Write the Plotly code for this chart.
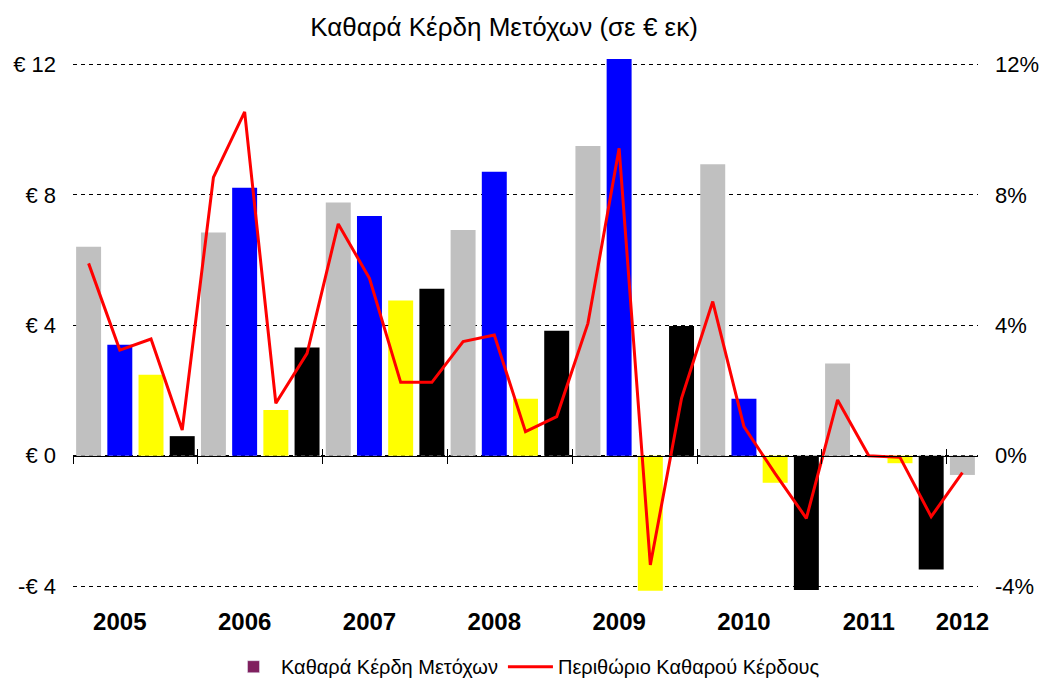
import plotly.graph_objects as go

# ---- data ----
categories = [f"{y} Q{q}" for y in range(2005, 2013) for q in range(1, 5)][:29]
eps = [6.41, 3.40, 2.48, 0.60,
       6.85, 8.22, 1.40, 3.32,
       7.77, 7.35, 4.76, 5.12,
       6.92, 8.71, 1.75, 3.83,
       9.50, 12.17, -4.14, 3.98,
       8.94, 1.75, -0.83, -4.12,
       2.83, 0.00, -0.23, -3.49,
       -0.59]
margin_pct = [5.90, 3.24, 3.58, 0.79,
              8.54, 10.55, 1.61, 3.14,
              7.11, 5.44, 2.25, 2.25,
              3.50, 3.70, 0.74, 1.20,
              4.06, 9.43, -3.35, 1.76,
              4.73, 0.89, -0.55, -1.92,
              1.71, 0.00, -0.05, -1.87,
              -0.52]
years = ["2005", "2006", "2007", "2008", "2009", "2010", "2011", "2012"]
left_ticks = [-4, 0, 4, 8, 12]
left_text = ["-€ 4", "€ 0", "€ 4", "€ 8", "€ 12"]
right_text = ["-4%", "0%", "4%", "8%", "12%"]

title = "Καθαρά Κέρδη Μετόχων (σε € εκ)"
name_bar = "Καθαρά Κέρδη Μετόχων"
name_line = "Περιθώριο Καθαρού Κέρδους"

# ---- styling ----
quarter_colors = ["#C0C0C0", "#0000FF", "#FFFF00", "#000000"]
FONT = "Liberation Sans, Arial, sans-serif"
W, H = 1041, 676  # page body has an 8px margin

x = list(range(len(categories)))
bar_colors = [quarter_colors[int(c.split("Q")[1]) - 1] for c in categories]
label_pos = []
for yr in years:
    idx = categories.index(f"{yr} Q2") if f"{yr} Q2" in categories else categories.index(f"{yr} Q1")
    label_pos.append(idx)
boundaries = [i - 0.5 for i in x if i % 4 == 0]

yr_range = [-4.15, 12.2]
xr = [-0.5, len(categories) - 0.5]
zero_pos = (0 - yr_range[0]) / (yr_range[1] - yr_range[0])

fig = go.Figure()
fig.add_trace(go.Bar(x=x, y=eps, marker=dict(color=bar_colors, line=dict(width=0)),
                     name=name_bar, showlegend=False, xaxis="x", yaxis="y"))
fig.add_trace(go.Bar(x=[None], y=[None], marker=dict(color="#80205F"),
                     name=name_bar, showlegend=True, xaxis="x3", yaxis="y"))
fig.add_trace(go.Scatter(x=x, y=margin_pct, mode="lines",
                         line=dict(color="#FF0000", width=3),
                         name=name_line, xaxis="x2", yaxis="y2"))

fig.update_layout(
    width=W, height=H,
    margin=dict(l=65, r=71, t=50, b=93, autoexpand=False),
    paper_bgcolor="white", plot_bgcolor="white",
    bargap=0.2,
    font=dict(family=FONT, color="black"),
    title=dict(text=title, x=496 / W, xanchor="center", y=1 - 19 / H, yanchor="middle",
               yref="container", font=dict(size=26, color="black")),
    xaxis=dict(range=xr, tickmode="array", tickvals=label_pos, ticktext=years,
               showline=False, ticks="", showgrid=False, zeroline=False, automargin=False,
               tickfont=dict(size=24, family="Liberation Sans, Arial", weight="bold"),
               ticklabelstandoff=14),
    xaxis2=dict(range=xr, overlaying="x", anchor="free", position=zero_pos, side="bottom",
                showline=True, linecolor="black", linewidth=1, automargin=False,
                tickmode="array", tickvals=boundaries, ticks="outside", ticklen=7,
                tickcolor="black", showticklabels=False, showgrid=False, zeroline=False),
    xaxis3=dict(range=xr, overlaying="x", anchor="free", position=zero_pos, side="bottom",
                showline=False, tickmode="array", tickvals=boundaries, ticks="inside",
                ticklen=7, tickcolor="black", showticklabels=False, showgrid=False,
                zeroline=False, automargin=False),
    yaxis=dict(range=yr_range, tickmode="array", tickvals=left_ticks, ticktext=left_text,
               showgrid=True, gridcolor="black", griddash="4px,4px", gridwidth=1,
               zeroline=False, showline=False, ticks="", automargin=False,
               tickfont=dict(size=22), ticklabelstandoff=16),
    yaxis2=dict(range=yr_range, overlaying="y", side="right", anchor="x",
                tickmode="array", tickvals=left_ticks, ticktext=right_text,
                showgrid=False, zeroline=False, showline=False, ticks="", automargin=False,
                tickfont=dict(size=22), ticklabelstandoff=16),
    legend=dict(orientation="h", x=0.5, xanchor="center", y=-0.142, yanchor="middle",
                font=dict(size=20), bgcolor="rgba(0,0,0,0)", itemwidth=45,
                traceorder="normal"),
)

fig.write_html("out.html")
